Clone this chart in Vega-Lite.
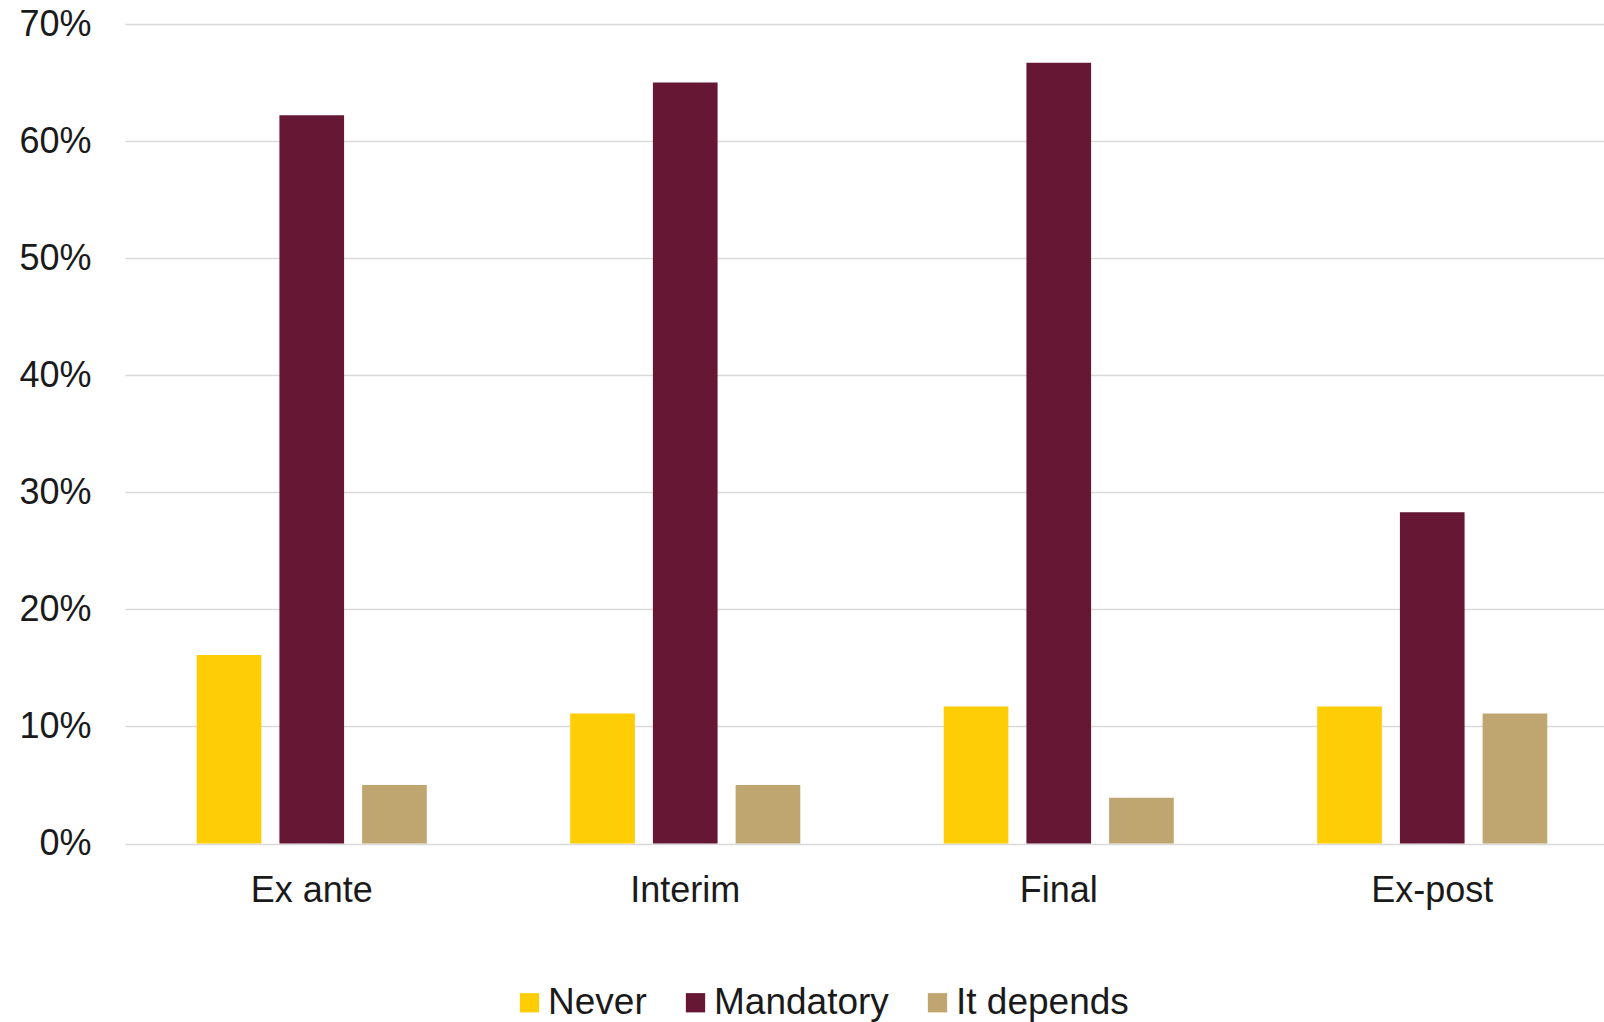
{
  "$schema": "https://vega.github.io/schema/vega-lite/v6.json",
  "width": 1494,
  "height": 819.5,
  "autosize": {"type": "none"},
  "padding": {"left": 125, "top": 24, "right": 0, "bottom": 178},
  "background": "white",
  "config": {"view": {"stroke": null}, "font": "Liberation Sans"},
  "data": {
    "values": [
      {"stage": "Ex ante", "response": "Never", "value": 0.161},
      {"stage": "Ex ante", "response": "Mandatory", "value": 0.622},
      {"stage": "Ex ante", "response": "It depends", "value": 0.05},
      {"stage": "Interim", "response": "Never", "value": 0.111},
      {"stage": "Interim", "response": "Mandatory", "value": 0.65},
      {"stage": "Interim", "response": "It depends", "value": 0.05},
      {"stage": "Final", "response": "Never", "value": 0.117},
      {"stage": "Final", "response": "Mandatory", "value": 0.667},
      {"stage": "Final", "response": "It depends", "value": 0.039},
      {"stage": "Ex-post", "response": "Never", "value": 0.117},
      {"stage": "Ex-post", "response": "Mandatory", "value": 0.283},
      {"stage": "Ex-post", "response": "It depends", "value": 0.111}
    ]
  },
  "mark": {"type": "bar"},
  "encoding": {
    "x": {
      "field": "stage",
      "type": "nominal",
      "sort": ["Ex ante", "Interim", "Final", "Ex-post"],
      "scale": {"paddingInner": 0.384, "paddingOuter": 0.192},
      "axis": {
        "title": null,
        "labelAngle": 0,
        "labelFontSize": 36,
        "labelColor": "#1a1a1a",
        "labelPadding": 30,
        "ticks": false,
        "domain": false,
        "grid": false
      }
    },
    "xOffset": {
      "field": "response",
      "type": "nominal",
      "sort": ["Never", "Mandatory", "It depends"],
      "scale": {"paddingInner": 0.218, "paddingOuter": 0}
    },
    "y": {
      "field": "value",
      "type": "quantitative",
      "scale": {"domain": [0, 0.7], "nice": false},
      "axis": {
        "title": null,
        "format": ".0%",
        "values": [0, 0.1, 0.2, 0.3, 0.4, 0.5, 0.6, 0.7],
        "labelFontSize": 36,
        "labelColor": "#1a1a1a",
        "labelPadding": 34,
        "ticks": false,
        "domain": false,
        "gridColor": "#d9d9d9",
        "gridWidth": 1.5
      }
    },
    "color": {
      "field": "response",
      "type": "nominal",
      "sort": ["Never", "Mandatory", "It depends"],
      "scale": {
        "domain": ["Never", "Mandatory", "It depends"],
        "range": ["#FFCD05", "#651734", "#BFA570"]
      },
      "legend": {
        "title": null,
        "orient": "none",
        "direction": "horizontal",
        "legendX": 386,
        "legendY": 960,
        "padding": 0,
        "symbolType": "square",
        "symbolSize": 372,
        "symbolStrokeWidth": 0,
        "symbolOpacity": 1,
        "labelFontSize": 37,
        "labelLimit": 0,
        "labelColor": "#1a1a1a",
        "labelOffset": 0,
        "columnPadding": 30
      }
    }
  }
}
